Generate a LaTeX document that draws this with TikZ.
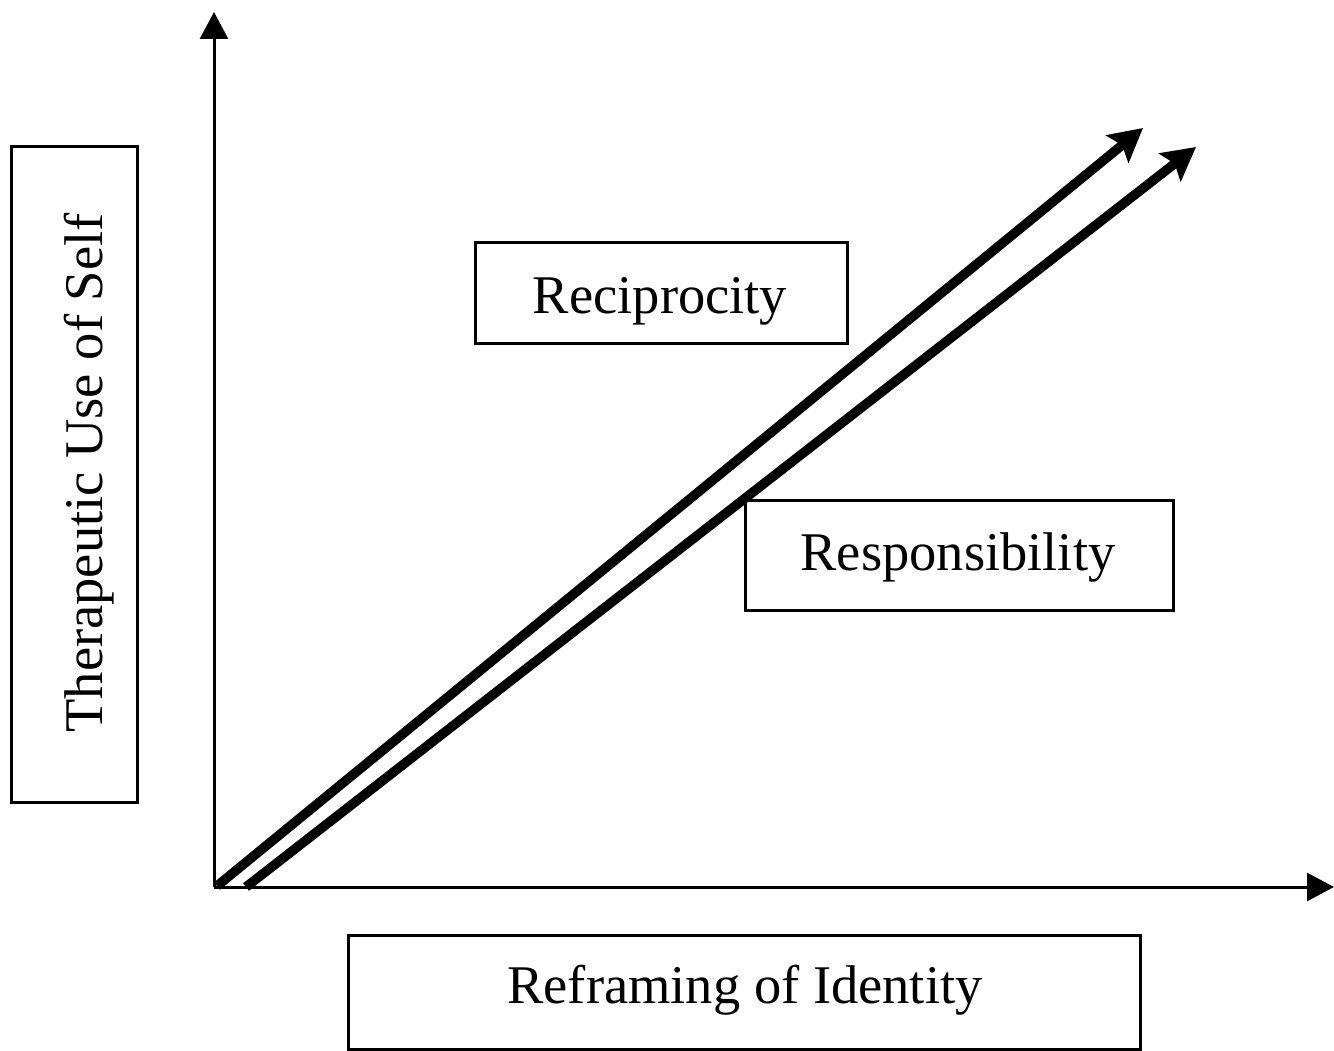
\documentclass[tikz,border=0pt]{standalone}
\usepackage{fontspec}
\setmainfont{Liberation Serif}
\usetikzlibrary{arrows.meta}
\begin{document}
\begin{tikzpicture}[x=1pt,y=-1pt,
  box/.style={draw=black,line width=3pt,rectangle,inner sep=0pt},
  lbl/.style={inner sep=0pt,anchor=base,font=\fontsize{54.5}{60}\selectfont},
  axis/.style={line width=3pt,-{Triangle[length=27pt,width=28pt]}},
  thick arrow/.style={line width=9.5pt,-{Stealth[length=33pt,width=35pt,inset=6pt]}}]
\useasboundingbox (0,0) rectangle (1334,1051);
% boxes
\node[box,minimum width=126pt,minimum height=655pt] (ybox) at (74,474.5) {};
\node[box,minimum width=372pt,minimum height=100pt] (recbox) at (661,293) {};
\node[box,minimum width=428pt,minimum height=110pt] (resbox) at (959,555) {};
\node[box,minimum width=792pt,minimum height=114pt] (xbox) at (744,992) {};
% labels
\node[lbl,rotate=90] (ytext) at (102,473) {Therapeutic Use of Self};
\node[lbl] (rectext) at (660,313) {Reciprocity};
\node[lbl] (restext) at (958,570) {Responsibility};
\node[lbl] (xtext) at (745,1003) {Reframing of Identity};
% axes
\coordinate (O) at (214,887);
\coordinate (ytip) at (214,12);
\coordinate (xtip) at (1334,887);
\draw[axis] (O) -- (ytip);
\draw[axis] (O) -- (xtip);
% thick arrows
\coordinate (a1s) at (217,886);
\coordinate (a1e) at (1143,128);
\coordinate (a2s) at (246,887);
\coordinate (a2e) at (1196,147);
\draw[thick arrow] (a1s) -- (a1e);
\draw[thick arrow] (a2s) -- (a2e);
\end{tikzpicture}
\end{document}
